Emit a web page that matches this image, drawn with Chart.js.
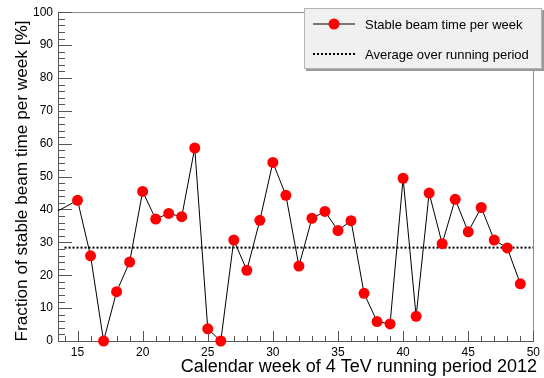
<!DOCTYPE html>
<html>
<head>
<meta charset="utf-8">
<script src="https://cdn.jsdelivr.net/npm/chart.js@4/dist/chart.umd.min.js"></script>
<style>
  html, body { margin: 0; padding: 0; background: #ffffff; }
  canvas { display: block; }
</style>
</head>
<body>
<canvas id="c" width="544" height="378"></canvas>
<script>
// Calendar weeks of the 4 TeV running period (first entry lies before the axis start)
const weeks = [13, 15, 16, 17, 18, 19, 20, 21, 22, 23, 24, 25, 26, 27, 28, 29, 30, 31, 32,
               33, 34, 35, 36, 37, 38, 39, 40, 41, 42, 43, 44, 45, 46, 47, 48, 49];
// Fraction of stable beam time per week [%]
const beamFraction = [38.5, 42.8, 25.9, 0, 15.0, 24.0, 45.5, 37.1, 38.8, 37.8, 58.7, 3.7, 0,
                      30.7, 21.5, 36.7, 54.3, 44.3, 22.8, 37.3, 39.4, 33.6, 36.6, 14.5, 5.9,
                      5.2, 49.5, 7.5, 45.0, 29.6, 43.1, 33.2, 40.6, 30.7, 28.3, 17.4];
// Average over the running period
const averageWeeks = [14, 50];
const averageValue = 28.4;

const xTickValues = [15, 20, 25, 30, 35, 40, 45, 50];
const yTickValues = [0, 10, 20, 30, 40, 50, 60, 70, 80, 90, 100];

const legendLabels = ['Stable beam time per week', 'Average over running period'];
const xTitle = 'Calendar week of 4 TeV running period 2012';
const yTitle = 'Fraction of stable beam time per week [%]';

const FONT = '"Liberation Sans", Arial, Helvetica, sans-serif';

// Frame, inward tick marks and axis titles
const framePlugin = {
  id: 'frame',
  beforeDatasetsDraw(chart) {
    const { ctx, chartArea: a, scales: { x, y } } = chart;
    ctx.save();
    ctx.lineWidth = 1;
    // outer frame
    ctx.strokeStyle = '#8c8c8c';
    ctx.strokeRect(Math.round(a.left) + 0.5, Math.round(a.top) + 0.5,
                   Math.round(a.right - a.left), Math.round(a.bottom - a.top));
    // axis lines
    ctx.strokeStyle = '#555555';
    ctx.beginPath();
    ctx.moveTo(Math.round(a.left) + 0.5, Math.round(a.top));
    ctx.lineTo(Math.round(a.left) + 0.5, Math.round(a.bottom) + 0.5);
    ctx.lineTo(Math.round(a.right) + 1, Math.round(a.bottom) + 0.5);
    ctx.stroke();
    // x ticks: major every 5, minor every 1
    ctx.beginPath();
    for (let v = Math.ceil(x.min); v <= x.max; v++) {
      const px = Math.round(x.getPixelForValue(v)) + 0.5;
      const len = v % 5 === 0 ? 10 : 5;
      ctx.moveTo(px, a.bottom);
      ctx.lineTo(px, a.bottom - len);
    }
    // y ticks: major every 10, minor every 2
    for (let v = y.min; v <= y.max; v += 2) {
      const py = Math.round(y.getPixelForValue(v)) + 0.5;
      const len = v % 10 === 0 ? 14 : 7;
      ctx.moveTo(a.left, py);
      ctx.lineTo(a.left + len, py);
    }
    ctx.stroke();

    // axis titles
    ctx.fillStyle = '#000000';
    ctx.textAlign = 'right';
    ctx.textBaseline = 'alphabetic';
    ctx.font = '18px ' + FONT;
    ctx.fillText(xTitle, 537, 372);
    ctx.save();
    ctx.font = '17.2px ' + FONT;
    ctx.translate(26.5, 20.5);
    ctx.rotate(-Math.PI / 2);
    ctx.fillText(yTitle, 0, 0);
    ctx.restore();
    ctx.restore();
  }
};

// Boxed legend in the upper right
const legendPlugin = {
  id: 'boxLegend',
  afterDraw(chart) {
    const { ctx } = chart;
    const ds = chart.data.datasets;
    ctx.save();
    // shadow
    ctx.fillStyle = '#9a9a9a';
    ctx.fillRect(306, 69, 238, 2);
    ctx.fillRect(542, 10, 2, 61);
    // box
    ctx.fillStyle = '#f0f0f0';
    ctx.fillRect(304, 8, 238, 61);
    ctx.strokeStyle = '#b4b4b4';
    ctx.lineWidth = 1;
    ctx.strokeRect(304.5, 8.5, 237, 60);

    const x0 = 313, x1 = 355;
    const rows = [24, 54];
    // marker + line sample
    ctx.strokeStyle = ds[0].borderColor;
    ctx.lineWidth = ds[0].borderWidth;
    ctx.beginPath();
    ctx.moveTo(x0, rows[0]);
    ctx.lineTo(x1, rows[0]);
    ctx.stroke();
    ctx.fillStyle = ds[0].pointBackgroundColor;
    ctx.beginPath();
    ctx.arc((x0 + x1) / 2, rows[0], ds[0].pointRadius, 0, Math.PI * 2);
    ctx.fill();
    // dotted sample
    ctx.strokeStyle = ds[1].borderColor;
    ctx.lineWidth = ds[1].borderWidth;
    ctx.setLineDash(ds[1].borderDash);
    ctx.beginPath();
    ctx.moveTo(x0, rows[1]);
    ctx.lineTo(x1, rows[1]);
    ctx.stroke();
    ctx.setLineDash([]);

    ctx.fillStyle = '#000000';
    ctx.font = '13px ' + FONT;
    ctx.textAlign = 'left';
    ctx.textBaseline = 'alphabetic';
    ctx.fillText(legendLabels[0], 365, 28.5);
    ctx.fillText(legendLabels[1], 365, 58.5);
    ctx.restore();
  }
};

new Chart(document.getElementById('c'), {
  type: 'line',
  data: {
    datasets: [
      {
        label: legendLabels[0],
        data: weeks.map((w, i) => ({ x: w, y: beamFraction[i] })),
        borderColor: '#000000',
        borderWidth: 1,
        pointRadius: 5.5,
        pointBackgroundColor: '#ff0000',
        pointBorderWidth: 0,
        pointBorderColor: '#ff0000',
        tension: 0,
        clip: { left: 0, top: 8, right: 8, bottom: 8 }
      },
      {
        label: legendLabels[1],
        data: averageWeeks.map(w => ({ x: w, y: averageValue })),
        borderColor: '#000000',
        borderWidth: 2,
        borderDash: [2, 2],
        pointRadius: 0,
        tension: 0,
        clip: 0
      }
    ]
  },
  options: {
    responsive: false,
    animation: false,
    events: [],
    layout: { padding: { top: 9, right: 3, left: 0, bottom: 0 } },
    plugins: { legend: { display: false }, tooltip: { enabled: false } },
    scales: {
      x: {
        type: 'linear',
        min: 13.5,
        max: 50,
        grid: { display: false, drawTicks: false },
        border: { display: false },
        afterBuildTicks: s => { s.ticks = xTickValues.map(v => ({ value: v })); },
        afterFit: s => { s.height = 37; },
        ticks: {
          autoSkip: false, maxRotation: 0, padding: 4, color: '#000000',
          font: { family: FONT, size: 12 }
        }
      },
      y: {
        type: 'linear',
        min: 0,
        max: 100,
        grid: { display: false, drawTicks: false },
        border: { display: false },
        afterBuildTicks: s => { s.ticks = yTickValues.map(v => ({ value: v })); },
        afterFit: s => { s.width = 58; },
        ticks: {
          autoSkip: false, padding: 5, color: '#000000',
          font: { family: FONT, size: 12 }
        }
      }
    }
  },
  plugins: [framePlugin, legendPlugin]
});
</script>
</body>
</html>
